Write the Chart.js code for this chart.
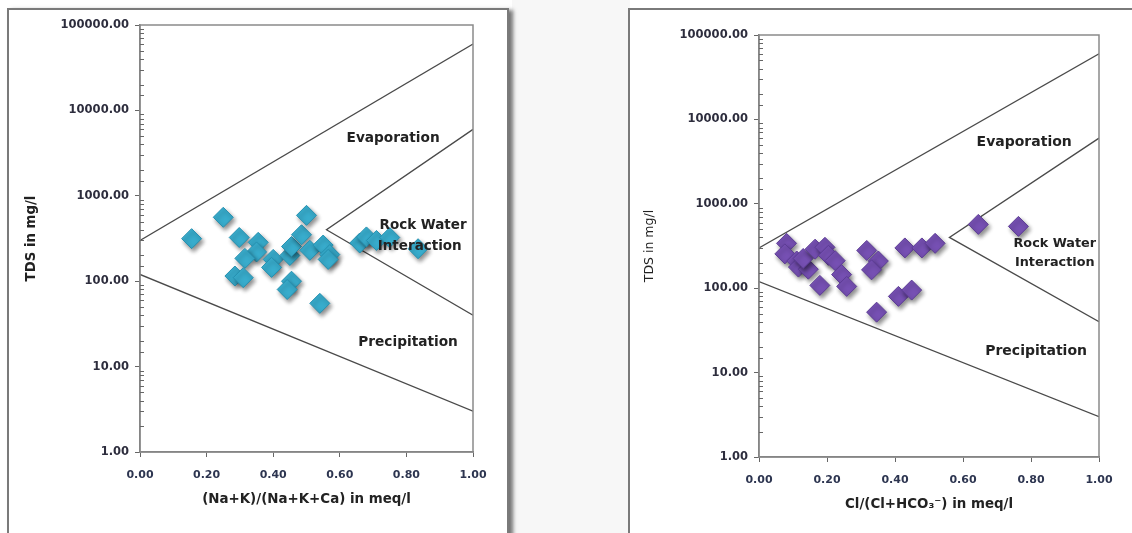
<!doctype html>
<html lang="en">
<head>
<meta charset="utf-8">
<title>Gibbs diagrams</title>
<script src="https://cdn.jsdelivr.net/npm/chart.js@4.4.0/dist/chart.umd.min.js"></script>
<style>
  body { margin: 0; background: #fff; width: 1132px; height: 533px; overflow: hidden; position: relative; }
  .gap { position: absolute; left: 512px; top: 0; width: 118px; height: 533px; background: #f7f7f7; }
  .frame { position: absolute; border: 2px solid #7a7a7a; background: #fff; }
  #frameL { left: 7px; top: 8px; width: 498px; height: 540px; box-shadow: 4px 2px 4px rgba(0,0,0,0.55); }
  #frameR { left: 628px; top: 8px; width: 520px; height: 540px; }
  canvas { position: absolute; }
  #chartL { left: 10px; top: 10px; }
  #chartR { left: 631px; top: 11px; }
</style>
</head>
<body>
<div class="gap"></div>
<div class="frame" id="frameL"></div>
<div class="frame" id="frameR"></div>
<canvas id="chartL" width="496" height="523"></canvas>
<canvas id="chartR" width="497" height="522"></canvas>

<script>
// ---- data ----
// left: (Na+K)/(Na+K+Ca) vs TDS
var naRatio = [0.155, 0.25, 0.298, 0.355, 0.35, 0.315, 0.285, 0.31, 0.40, 0.395, 0.45, 0.455, 0.485,
               0.50, 0.51, 0.455, 0.442, 0.54, 0.55, 0.57, 0.565, 0.66, 0.68, 0.71, 0.75, 0.835];
var naTDS   = [315, 560, 325, 285, 220, 185, 115, 110, 180, 145, 200, 255, 350,
               590, 230, 100, 80, 55, 265, 205, 180, 280, 330, 300, 325, 240];

// right: Cl/(Cl+HCO3) vs TDS
var clRatio = [0.081, 0.076, 0.111, 0.116, 0.145, 0.13, 0.165, 0.194, 0.204, 0.224, 0.179, 0.243, 0.258,
               0.317, 0.351, 0.331, 0.346, 0.41, 0.449, 0.429, 0.479, 0.518, 0.645, 0.763];
var clTDS   = [340, 255, 210, 178, 168, 225, 290, 305, 245, 212, 108, 145, 105,
               280, 210, 165, 52, 80, 95, 300, 300, 340, 570, 540];

// Gibbs boundary lines
var upperX = [0, 1],         upperY = [300, 60000];
var lowerX = [0, 1],         lowerY = [120, 3];
var wedgeX = [1, 0.56, 1],   wedgeY = [6000, 400, 40];

// y axis ticks that get a label
var yLabelled = [1, 10, 100, 1000, 10000, 100000];

// zone labels [text, x, y]
var zonesL = [['Evaporation', 0.76, 4700], ['Rock Water', 0.85, 450], ['Interaction', 0.84, 255], ['Precipitation', 0.805, 19]];
var zonesR = [['Evaporation', 0.78, 5300], ['Rock Water', 0.87, 340], ['Interaction', 0.87, 200], ['Precipitation', 0.815, 18]];

function pts(xs, ys) {
  return xs.map(function (x, i) { return { x: x, y: ys[i] }; });
}

function lineSet(xs, ys) {
  return {
    type: 'line', data: pts(xs, ys), showLine: true, borderColor: '#4a4a4a', borderWidth: 1.3,
    pointRadius: 0, fill: false, tension: 0, order: 2
  };
}

// shadow under the diamonds, box round the plot, minor ticks, zone texts
var extras = {
  id: 'extras',
  beforeDatasetDraw: function (chart, args) {
    if (args.index === 0) {
      var c = chart.ctx;
      c.save();
      c.shadowColor = 'rgba(0,0,0,0.45)';
      c.shadowBlur = 4;
      c.shadowOffsetX = 2;
      c.shadowOffsetY = 3;
    }
  },
  afterDatasetDraw: function (chart, args) {
    if (args.index === 0) chart.ctx.restore();
  },
  afterDraw: function (chart) {
    var c = chart.ctx, a = chart.chartArea, ys = chart.scales.y, xs = chart.scales.x;
    var opts = chart.options.plugins.extras;
    c.save();
    c.strokeStyle = '#8a8a8a';
    c.lineWidth = 1.5;
    c.strokeRect(a.left, a.top, a.right - a.left, a.bottom - a.top);
    c.strokeStyle = '#666';
    c.lineWidth = 1;
    ys.ticks.forEach(function (t) {
      if (yLabelled.indexOf(t.value) >= 0) return;
      var py = Math.round(ys.getPixelForValue(t.value)) + 0.5;
      c.beginPath(); c.moveTo(a.left, py); c.lineTo(a.left + 4, py); c.stroke();
    });
    c.fillStyle = '#222';
    c.textAlign = 'center';
    c.textBaseline = 'middle';
    opts.zones.forEach(function (z, i) {
      c.font = 'bold ' + opts.sizes[i] + 'px "DejaVu Sans"';
      c.fillText(z[0], xs.getPixelForValue(z[1]), ys.getPixelForValue(z[2]));
    });
    c.restore();
  }
};

function makeChart(id, xs, ys, fill, edge, xTitle, yTitleFont, sizes, zones, zoneSizes) {
  return new Chart(document.getElementById(id), {
    type: 'scatter',
    data: {
      datasets: [
        { data: pts(xs, ys), pointStyle: 'rectRot', pointRadius: 10, pointHoverRadius: 10,
          backgroundColor: fill, borderColor: edge, borderWidth: 1, order: 0 },
        lineSet(upperX, upperY),
        lineSet(lowerX, lowerY),
        lineSet(wedgeX, wedgeY)
      ]
    },
    plugins: [extras],
    options: {
      responsive: false,
      animation: false,
      events: [],
      layout: { padding: { left: 0, top: sizes.top, right: sizes.right, bottom: 0 } },
      plugins: {
        legend: { display: false },
        tooltip: { enabled: false },
        extras: { zones: zones, sizes: zoneSizes }
      },
      scales: {
        x: {
          type: 'linear', min: 0, max: 1,
          afterFit: function (s) { s.height = sizes.xh; },
          ticks: {
            stepSize: 0.2, padding: 12, color: '#2d3550',
            font: { family: 'DejaVu Sans', size: 11, weight: 'bold' },
            callback: function (v) { return v.toFixed(2); }
          },
          grid: { drawOnChartArea: false, tickLength: 5, tickColor: '#666' },
          border: { color: '#777', width: 1.5 },
          title: { display: true, text: xTitle, color: '#222',
                   font: { family: 'DejaVu Sans', size: sizes.xtSize, weight: 'bold' },
                   padding: { top: 0, bottom: sizes.xtPad } }
        },
        y: {
          type: 'logarithmic', min: 1, max: 100000,
          afterFit: function (s) { s.width = sizes.yw; },
          ticks: {
            autoSkip: false, padding: 6, color: '#2d2d3d',
            font: { family: 'DejaVu Sans', size: 11.5, weight: 'bold' },
            callback: function (v) { return yLabelled.indexOf(v) >= 0 ? v.toFixed(2) : ''; }
          },
          grid: {
            drawOnChartArea: false, tickLength: 5,
            tickColor: function (ctx) { return ctx.tick && yLabelled.indexOf(ctx.tick.value) >= 0 ? '#666' : 'rgba(0,0,0,0)'; }
          },
          border: { color: '#777', width: 1.5 },
          title: { display: true, text: 'TDS in mg/l', color: '#222', font: yTitleFont,
                   padding: { top: sizes.ytPad, bottom: 0 } }
        }
      }
    }
  });
}

makeChart('chartL', naRatio, naTDS, '#38accc', '#2590b0', '(Na+K)/(Na+K+Ca) in meq/l',
  { family: 'DejaVu Sans', size: 13.3, weight: 'bold' },
  { top: 15, right: 33, xh: 81, yw: 130, xtPad: 25, ytPad: 14, xtSize: 13.4 },
  zonesL, [13.7, 13.5, 13.5, 13.7]);

makeChart('chartR', clRatio, clTDS, '#7650b3', '#5c3c94', 'Cl/(Cl+HCO\u2083\u207B) in meq/l',
  { family: 'DejaVu Sans', size: 12.5 },
  { top: 24, right: 29, xh: 76, yw: 128, xtPad: 20, ytPad: 11, xtSize: 13.4 },
  zonesR, [14, 12.8, 12.8, 14]);
</script>
</body>
</html>
